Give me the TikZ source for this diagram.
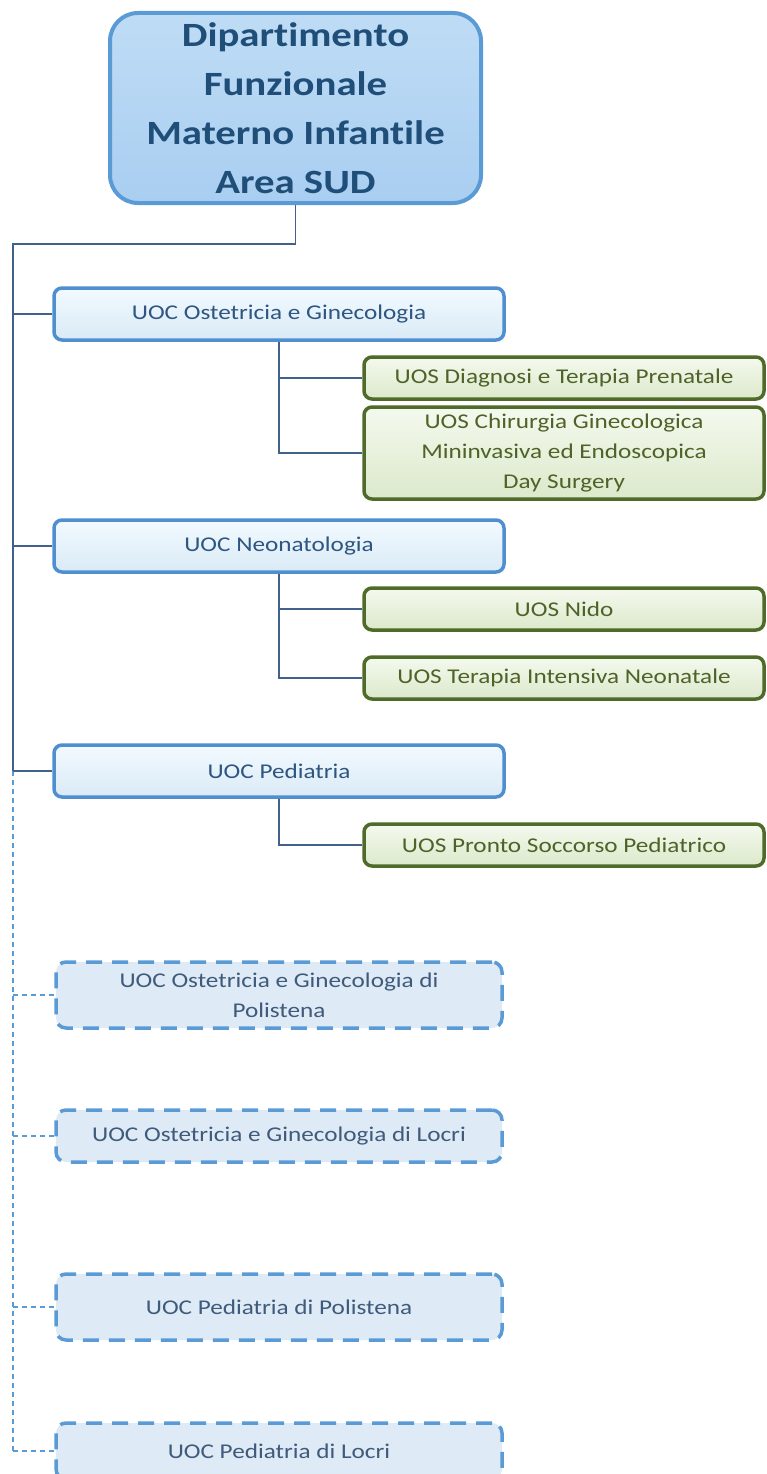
\documentclass[tikz,border=0pt]{standalone}
\usepackage{fontspec}
\setmainfont[FakeStretch=1.2,Ligatures=NoCommon]{Carlito}
\usetikzlibrary{calc}
\definecolor{topfill}{HTML}{A9CEF1}
\definecolor{topfilltop}{HTML}{BFDCF5}
\definecolor{topborder}{HTML}{5B9BD5}
\definecolor{toptext}{HTML}{1F4E79}
\definecolor{uocborder}{HTML}{4F8ECF}
\definecolor{uocfilltop}{HTML}{F3FAFF}
\definecolor{uocfillbot}{HTML}{D9EAF6}
\definecolor{uoctext}{HTML}{2E5680}
\definecolor{uostext}{HTML}{4F6228}
\definecolor{uosborder}{HTML}{4E6B2A}
\definecolor{uosfilltop}{HTML}{F4F9EE}
\definecolor{uosfillbot}{HTML}{DCE9CB}
\definecolor{linecol}{HTML}{41618A}
\definecolor{dashfill}{HTML}{DEEAF6}
\definecolor{dashborder}{HTML}{5B9BD5}
\definecolor{dashtext}{HTML}{3F5A7A}
\tikzset{
  topbox/.style={draw=topborder, line width=4pt, rounded corners=28pt,
    top color=topfilltop, bottom color=topfill, text=toptext,
    minimum width=371pt, minimum height=190pt, inner sep=0pt, align=center,
    font=\fontsize{34}{49}\selectfont\bfseries},
  uocbox/.style={draw=uocborder, line width=3.5pt, rounded corners=8pt,
    top color=uocfilltop, bottom color=uocfillbot, text=uoctext,
    minimum width=450pt, minimum height=52pt, inner sep=0pt, align=center,
    font=\fontsize{21}{30}\selectfont},
  uosbox/.style={draw=uosborder, line width=3.5pt, rounded corners=8pt,
    top color=uosfilltop, bottom color=uosfillbot, text=uostext,
    minimum width=400pt, minimum height=42pt, inner sep=0pt, align=center,
    font=\fontsize{21}{30}\selectfont},
  dashbox/.style={draw=dashborder, line width=3.5pt, dash pattern=on 16pt off 10pt,
    rounded corners=10pt, fill=dashfill, text=dashtext,
    minimum width=446pt, minimum height=52pt, inner sep=0pt, align=center,
    font=\fontsize{21}{30}\selectfont},
  conn/.style={draw=linecol, line width=1.6pt},
  dconn/.style={draw=dashborder, line width=1.2pt, dash pattern=on 5pt off 4pt},
}
\begin{document}
\begin{tikzpicture}[x=1pt,y=-1pt]
\useasboundingbox (0,0) rectangle (766,1474);
\clip (0,0) rectangle (766,1474);
% top
\node[topbox] (top) at (295.5,108) {Dipartimento\\Funzionale\\Materno Infantile\\Area SUD};
% UOC
\node[uocbox] (ost) at (279,314) {UOC Ostetricia e Ginecologia};
\node[uocbox] (neo) at (279,546) {UOC Neonatologia};
\node[uocbox] (ped) at (279,771) {UOC Pediatria};
% UOS
\node[uosbox] (diag) at (564,378) {UOS Diagnosi e Terapia Prenatale};
\node[uosbox, minimum height=92pt] (chir) at (564,453) {UOS Chirurgia Ginecologica\\Mininvasiva ed Endoscopica\\Day Surgery};
\node[uosbox] (nido) at (564,609) {UOS Nido};
\node[uosbox] (tin) at (564,678) {UOS Terapia Intensiva Neonatale};
\node[uosbox] (ps) at (564,845) {UOS Pronto Soccorso Pediatrico};
% dashed UOC
\node[dashbox, minimum height=66pt] (opol) at (279,995) {UOC Ostetricia e Ginecologia di\\Polistena};
\node[dashbox] (oloc) at (279,1136) {UOC Ostetricia e Ginecologia di Locri};
\node[dashbox, minimum height=66pt] (ppol) at (279,1307) {UOC Pediatria di Polistena};
\node[dashbox, minimum height=56pt] (ploc) at (279,1451) {UOC Pediatria di Locri};
% trunk
\coordinate (tk) at (13,244);
\coordinate (tkend) at (13,1451);
\draw[conn] (top.south) |- (tk) -- (tk |- ped.west);
\draw[dconn] (tk |- ped.west) -- (tkend);
\draw[conn] (tk |- ost.west) -- (ost.west);
\draw[conn] (tk |- neo.west) -- (neo.west);
\draw[conn] (tk |- ped.west) -- (ped.west);
\draw[dconn] (tk |- opol.west) -- (opol.west);
\draw[dconn] (tk |- oloc.west) -- (oloc.west);
\draw[dconn] (tk |- ppol.west) -- (ppol.west);
\draw[dconn] (tkend) -- (ploc.west);
% sub connectors
\draw[conn] (ost.south) |- (diag.west);
\draw[conn] (ost.south) |- (chir.west);
\draw[conn] (neo.south) |- (nido.west);
\draw[conn] (neo.south) |- (tin.west);
\draw[conn] (ped.south) |- (ps.west);
\end{tikzpicture}
\end{document}
